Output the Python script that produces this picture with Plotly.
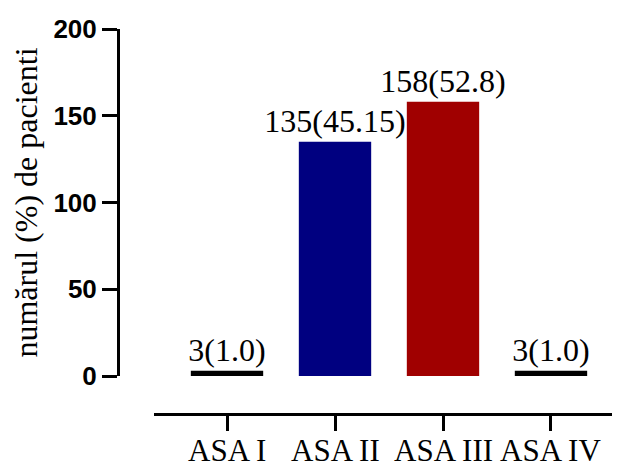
import plotly.graph_objects as go

categories = ["ASA I", "ASA II", "ASA III", "ASA IV"]
counts = [3, 135, 158, 3]
labels = ["3(1.0)", "135(45.15)", "158(52.8)", "3(1.0)"]
colors = ["#000000", "#000080", "#A00000", "#000000"]
y_ticks = [0, 50, 100, 150, 200]

xs = list(range(len(categories)))

fig = go.Figure()
fig.add_trace(go.Bar(
    x=xs,
    y=counts,
    width=0.67,
    marker=dict(color=colors, line=dict(width=0)),
    text=labels,
    textposition="outside",
    constraintext="none",
    cliponaxis=False,
    textfont=dict(family="Liberation Serif", size=32, color="black"),
))

# page body has an 8px default margin, so the figure is drawn offset by 8px
OFF = 8
W, H = 620 - OFF, 465 - OFF
ml, mt = 118 - OFF, 29 - OFF
mb = H - (414 - OFF)
mr = 0
pw = W - ml - mr
ph = H - mt - mb
x_start = (154 - 118) / pw
y_start = (414 - 376) / ph

# category labels under the offset x axis
for xv, cat in zip(xs, categories):
    fig.add_annotation(
        x=xv, xref="x", y=-(451 - 414) / ph, yref="paper",
        text=cat, showarrow=False, yanchor="middle", xanchor="center",
        font=dict(family="Liberation Serif", size=31, color="black"),
    )

fig.update_layout(
    width=W, height=H,
    margin=dict(l=ml, r=mr, t=mt, b=mb, pad=0),
    plot_bgcolor="white", paper_bgcolor="white",
    showlegend=False,
    uniformtext=dict(mode=False),
    xaxis=dict(
        domain=[x_start, 1],
        anchor="free", position=0,
        range=[-0.676, 3.639],
        tickmode="array",
        tickvals=xs,
        showticklabels=False,
        showline=True, linecolor="black", linewidth=3,
        ticks="outside", ticklen=15, tickwidth=3, tickcolor="black",
        showgrid=False, zeroline=False, automargin=False,
    ),
    yaxis=dict(
        domain=[y_start, 1],
        anchor="free", position=0,
        range=[0, 200],
        tickmode="array",
        tickvals=y_ticks,
        showline=True, linecolor="black", linewidth=3,
        ticks="outside", ticklen=15, tickwidth=3, tickcolor="black",
        tickfont=dict(family="Liberation Sans", size=26, color="black", weight="bold"),
        showgrid=False, zeroline=False, automargin=False,
        title=dict(text="numărul (%) de pacienti",
                   font=dict(family="Liberation Serif", size=32, color="black"),
                   standoff=8),
    ),
)

fig.write_html("out.html")
